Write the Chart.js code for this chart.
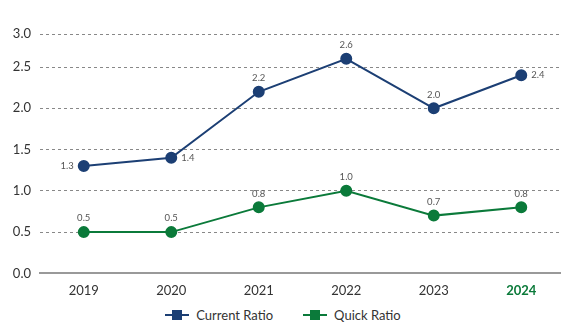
<!DOCTYPE html>
<html>
<head>
<meta charset="utf-8">
<script src="https://cdn.jsdelivr.net/npm/chart.js@4"></script>
<style>
  html, body { margin: 0; padding: 0; background: #fff; overflow: hidden; }
  #wrap { position: relative; width: 572px; height: 301px; }
  #legend {
    position: absolute; left: 0; top: 307px; width: 566px;
    display: flex; justify-content: center; gap: 30px;
    font: 13px Lato; color: #333;
  }
  .item { display: flex; align-items: center; gap: 7px; }
  .mark { position: relative; width: 24px; height: 10px; }
  .mark::before { content: ''; position: absolute; left: 0; right: 0; top: 4px; height: 2px; background: var(--c); }
  .mark::after { content: ''; position: absolute; left: 7px; top: 0; width: 10px; height: 10px; background: var(--c); }
</style>
</head>
<body>
<div id="wrap"><canvas id="chart"></canvas></div>
<div id="legend"></div>
<script>
// data
const years = ['2019', '2020', '2021', '2022', '2023', '2024'];
const currentRatio = [1.3, 1.4, 2.2, 2.6, 2.0, 2.4];
const quickRatio = [0.5, 0.5, 0.8, 1.0, 0.7, 0.8];
const yMax = 2.9;

const navy = '#1c3f74';
const green = '#0b7a3a';

//..value labels next to points
const valueLabels = {
    id: 'valueLabels',
    afterDatasetsDraw(chart) {
        const ctx = chart.ctx;
        ctx.save();
        ctx.font = '9.5px Lato';
        ctx.fillStyle = '#555';
        chart.data.datasets.forEach((ds, i) => {
            const meta = chart.getDatasetMeta(i);
            meta.data.forEach((pt, j) => {
                const pos = ds.labelPos[j];
                const txt = ds.data[j].toFixed(1);
                if (pos === 'left') {
                    ctx.textAlign = 'right'; ctx.textBaseline = 'middle';
                    ctx.fillText(txt, pt.x - 10, pt.y);
                } else if (pos === 'right') {
                    ctx.textAlign = 'left'; ctx.textBaseline = 'middle';
                    ctx.fillText(txt, pt.x + 10, pt.y);
                } else {
                    ctx.textAlign = 'center'; ctx.textBaseline = 'bottom';
                    ctx.fillText(txt, pt.x, pt.y - 9);
                }
            });
        });
        ctx.restore();
    }
};

const chart = new Chart(document.getElementById('chart'), {
    type: 'line',
    data: {
        labels: years,
        datasets: [{
            label: 'Current Ratio',
            data: currentRatio,
            borderColor: navy,
            backgroundColor: navy,
            borderWidth: 2,
            pointRadius: 5,
            pointHoverRadius: 5,
            labelPos: ['left', 'right', 'top', 'top', 'top', 'right']
        }, {
            label: 'Quick Ratio',
            data: quickRatio,
            borderColor: green,
            backgroundColor: green,
            borderWidth: 2,
            pointRadius: 5,
            pointHoverRadius: 5,
            labelPos: ['top', 'top', 'top', 'top', 'top', 'top']
        }]
    },
    options: {
        responsive: true,
        maintainAspectRatio: false,
        animation: false,
        layout: { padding: { top: 34, left: 0, right: 0, bottom: 0 } },
        scales: {
            x: {
                offset: true,
                grid: { display: false },
                border: { color: '#999', width: 2 },
                ticks: {
                    padding: 2,
                    font: ctx => ({ family: 'Lato', size: 13, weight: ctx.index === 5 ? 'bold' : 'normal' }),
                    color: ctx => ctx.index === 5 ? green : '#333'
                }
            },
            y: {
                min: 0,
                max: yMax,
                afterFit: scale => { scale.width = 40; },
                border: { display: false, dash: [3, 3] },
                grid: {
                    drawTicks: false,
                    color: ctx => ctx.index === 0 ? 'rgba(0,0,0,0)' : '#888',
                    lineWidth: 1
                },
                ticks: {
                    stepSize: 0.5,
                    padding: 9,
                    font: { family: 'Lato', size: 13 },
                    color: '#333',
                    callback: v => (Math.round(v * 2) / 2).toFixed(1)
                }
            }
        },
        plugins: {
            legend: { display: false },
            tooltip: { enabled: false }
        }
    },
    plugins: [valueLabels]
});

//..html legend
const legend = document.getElementById('legend');
chart.data.datasets.forEach(ds => {
    const item = document.createElement('div');
    item.className = 'item';
    item.innerHTML = `<span class="mark" style="--c:${ds.borderColor}"></span><span>${ds.label}</span>`;
    legend.appendChild(item);
});
</script>
</body>
</html>
